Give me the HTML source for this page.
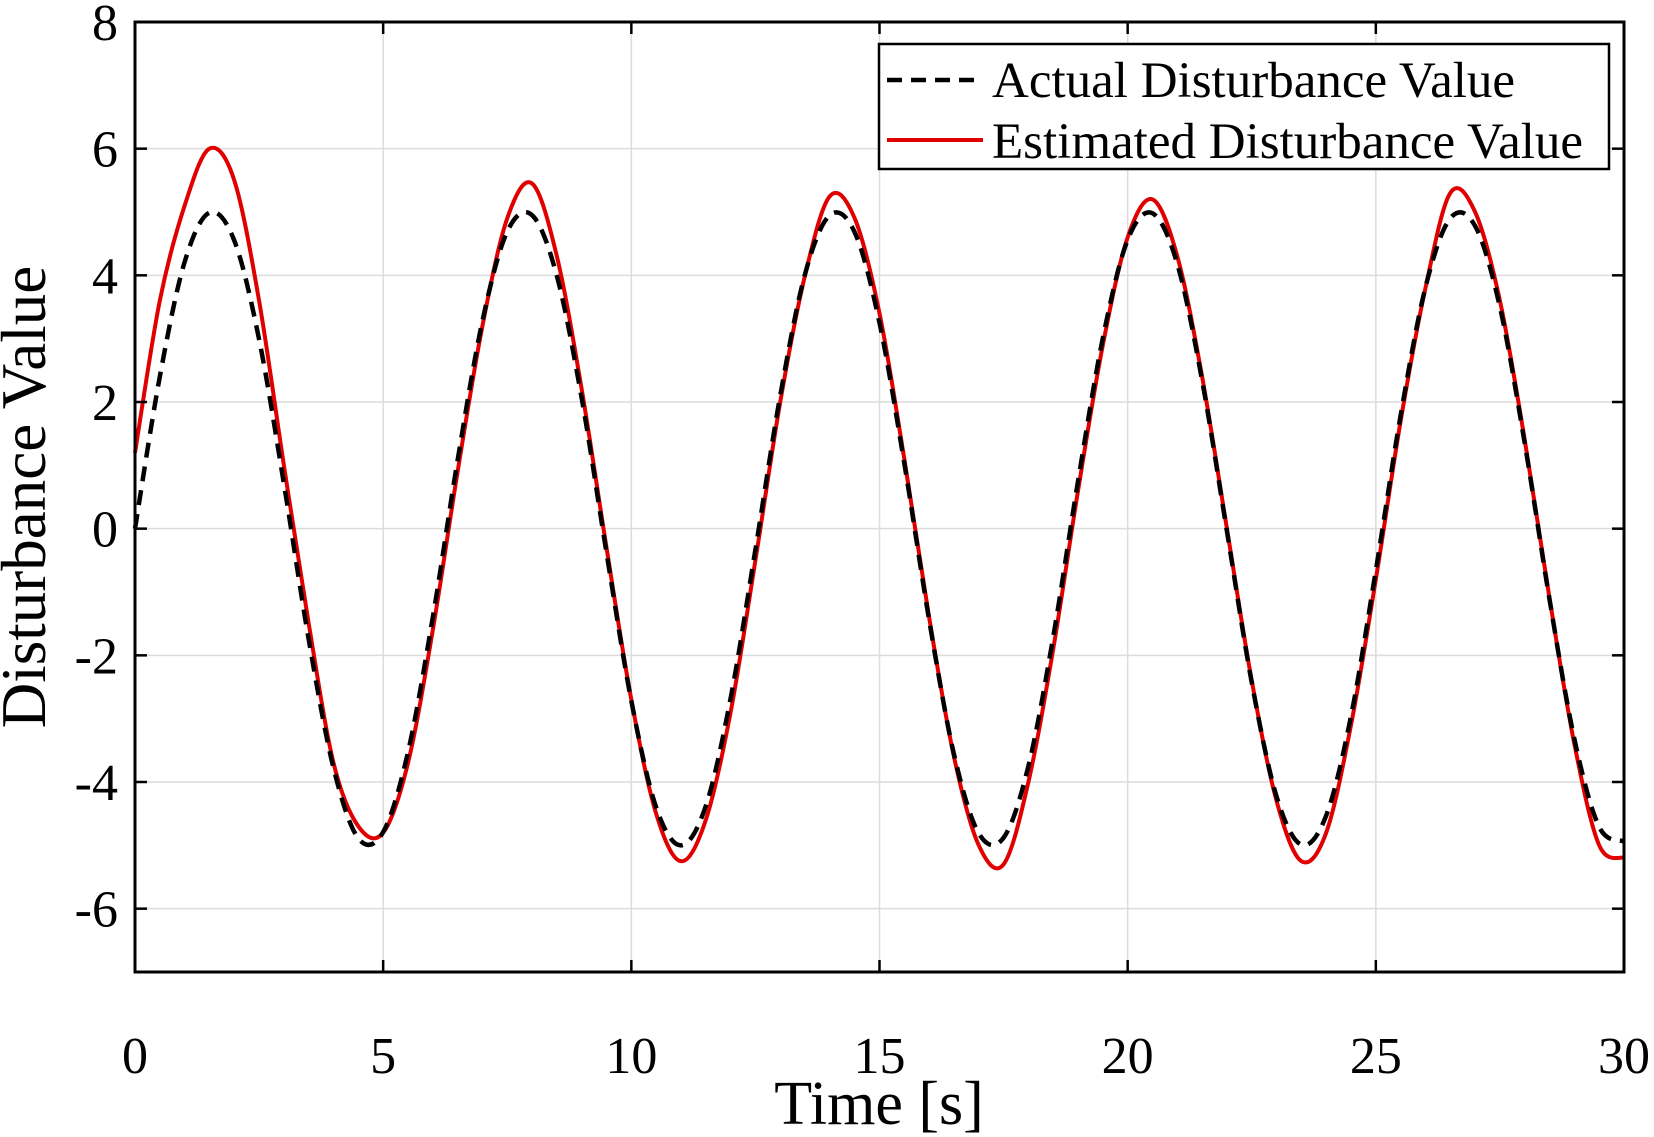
<!DOCTYPE html>
<html><head><meta charset="utf-8">
<style>
html,body{margin:0;padding:0;background:#fff;}
svg{display:block;}
text{font-family:"Liberation Serif",serif;fill:#000;}
</style></head>
<body>
<svg id="chart" width="1654" height="1137" viewBox="0 0 1654 1137" xmlns="http://www.w3.org/2000/svg">
<rect x="0" y="0" width="1654" height="1137" fill="#fff"/>
<g id="grid"></g>
<g id="series"></g>
<g id="axes"></g>
<text x="879" y="1124" font-size="62" text-anchor="middle">Time [s]</text>
<text transform="translate(45,497) rotate(-90)" font-size="63" text-anchor="middle">Disturbance Value</text>
<g>
<rect x="879" y="44" width="730" height="125" fill="#fff" stroke="#000" stroke-width="2.5"/>
<line x1="887" y1="80" x2="983" y2="80" stroke="#000" stroke-width="4.5" stroke-dasharray="15,9"/>
<text x="992" y="97" font-size="51">Actual Disturbance Value</text>
<line x1="887" y1="140" x2="983" y2="140" stroke="#e00000" stroke-width="4"/>
<text x="992" y="158" font-size="51">Estimated Disturbance Value</text>
</g>
</svg>
<script>
const times = [0,0.5,1,1.5,2,2.5,3,3.5,4,4.5,5,5.5,6,6.5,7,7.5,8,8.5,9,9.5,10,10.5,11,11.5,12,12.5,13,13.5,14,14.5,15,15.5,16,16.5,17,17.5,18,18.5,19,19.5,20,20.5,21,21.5,22,22.5,23,23.5,24,24.5,25,25.5,26,26.5,27,27.5,28,28.5,29,29.5,30];
const actualValues = [0,2.40,4.21,4.99,4.55,2.99,0.71,-1.75,-3.78,-4.89,-4.79,-3.53,-1.40,1.08,3.28,4.69,4.95,3.99,2.06,-0.38,-2.72,-4.40,-5.00,-4.38,-2.68,-0.33,2.10,4.02,4.95,4.68,3.25,1.03,-1.44,-3.56,-4.81,-4.88,-3.75,-1.71,0.75,3.01,4.56,4.98,4.18,2.34,-0.04,-2.43,-4.23,-4.99,-4.53,-2.96,-0.66,1.79,3.81,4.90,4.78,3.50,1.35,-1.12,-3.32,-4.71,-4.94];
const estimatedValues = [1.2,3.6,5.1,6.0,5.5,3.6,1.0,-1.5,-3.7,-4.7,-4.8,-3.7,-1.6,0.9,3.2,4.9,5.45,4.3,2.2,-0.3,-2.7,-4.5,-5.25,-4.6,-2.9,-0.5,2.0,4.0,5.25,4.9,3.4,1.1,-1.4,-3.6,-5.0,-5.3,-4.0,-1.9,0.6,2.9,4.6,5.2,4.3,2.4,0.0,-2.4,-4.3,-5.25,-4.8,-3.1,-0.8,1.7,3.8,5.3,5.0,3.6,1.4,-1.1,-3.4,-5.0,-5.2];
const xTicks = [0,5,10,15,20,25,30];
const yTicks = [-6,-4,-2,0,2,4,6,8];

const L=135,R=1624,T=22,B=972,XMIN=0,XMAX=30,YMIN=-7,YMAX=8;
const xs=v=>L+(v-XMIN)/(XMAX-XMIN)*(R-L);
const ys=v=>B-(v-YMIN)/(YMAX-YMIN)*(B-T);
const NS='http://www.w3.org/2000/svg';
function mk(tag,attrs,parent){const e=document.createElementNS(NS,tag);for(const k in attrs)e.setAttribute(k,attrs[k]);parent.appendChild(e);return e;}
const grid=document.getElementById('grid'),axes=document.getElementById('axes'),series=document.getElementById('series');
xTicks.forEach(t=>{
  const g=mk('line',{x1:xs(t),x2:xs(t),y1:T,y2:B,stroke:'#dcdcdc','stroke-width':1.5},grid);
  
  
  const a=mk('line',{x1:xs(t),x2:xs(t),y1:B,y2:B-12,stroke:'#000','stroke-width':2.5},axes);
  
  
  const b=mk('line',{x1:xs(t),x2:xs(t),y1:T,y2:T+12,stroke:'#000','stroke-width':2.5},axes);
  
  
  const tx=mk('text',{x:xs(t),y:1073,'font-size':52,'text-anchor':'middle'},axes);
  tx.textContent=t;
  
  
});
yTicks.forEach(t=>{
  const g=mk('line',{x1:L,x2:R,y1:ys(t),y2:ys(t),stroke:'#dcdcdc','stroke-width':1.5},grid);
  
  
  const a=mk('line',{x1:L,x2:L+12,y1:ys(t),y2:ys(t),stroke:'#000','stroke-width':2.5},axes);
  
  
  const b=mk('line',{x1:R,x2:R-12,y1:ys(t),y2:ys(t),stroke:'#000','stroke-width':2.5},axes);
  
  
  const tx=mk('text',{x:118,y:ys(t)+18,'font-size':52,'text-anchor':'end'},axes);
  tx.textContent=t;
  
  
});
const frame=mk('rect',{x:L,y:T,width:R-L,height:B-T,fill:'none',stroke:'#000','stroke-width':3},axes);


function smooth(vals){
  const p=vals.map((v,i)=>[xs(times[i]),ys(v)]);
  let d='M'+p[0][0]+','+p[0][1];
  for(let i=0;i<p.length-1;i++){
    const p0=p[Math.max(0,i-1)],p1=p[i],p2=p[i+1],p3=p[Math.min(p.length-1,i+2)];
    const c1=[p1[0]+(p2[0]-p0[0])/6,p1[1]+(p2[1]-p0[1])/6];
    const c2=[p2[0]-(p3[0]-p1[0])/6,p2[1]-(p3[1]-p1[1])/6];
    d+=' C'+c1[0]+','+c1[1]+' '+c2[0]+','+c2[1]+' '+p2[0]+','+p2[1];
  }
  return d;
}
const est=mk('path',{d:smooth(estimatedValues),fill:'none',stroke:'#e00000','stroke-width':4,'stroke-linejoin':'round'},series);


const act=mk('path',{d:smooth(actualValues),fill:'none',stroke:'#000','stroke-width':4.5,'stroke-dasharray':'15,9'},series);


</script>
</body></html>
